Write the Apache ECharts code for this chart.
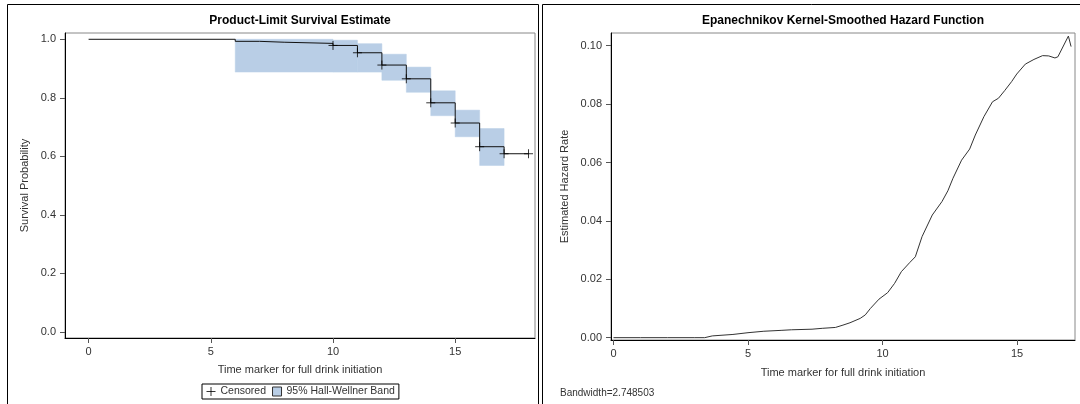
<!DOCTYPE html>
<html>
<head>
<meta charset="utf-8">
<script src="https://cdn.jsdelivr.net/npm/echarts@6/dist/echarts.min.js"></script>
<style>
html,body{margin:0;padding:0;background:#fff;}
#chart{width:1080px;height:404px;}
</style>
</head>
<body>
<div id="chart"></div>
<script>
// ---- Survival (Product-Limit) data ----
const stepTimes = [0, 6, 7, 8, 10, 11, 12, 13, 14, 15, 16, 17, 18];
const stepSurv  = [1.0, 0.993, 0.990, 0.986, 0.979, 0.954, 0.912, 0.865, 0.783, 0.714, 0.633, 0.609, 0.609];

const censTimes = [10, 11, 12, 13, 14, 15, 16, 17, 18];
const censSurv  = [0.979, 0.954, 0.912, 0.865, 0.783, 0.714, 0.633, 0.609, 0.609];

const bandStart = [6, 10, 11, 12, 13, 14, 15, 16];
const bandEnd   = [10, 11, 12, 13, 14, 15, 16, 17];
const bandLower = [0.888, 0.888, 0.888, 0.860, 0.819, 0.739, 0.667, 0.569];
const bandUpper = [1.000, 0.997, 0.985, 0.949, 0.905, 0.824, 0.758, 0.695];

const survXTicks = [0, 5, 10, 15];
const survYTicks = [0, 0.2, 0.4, 0.6, 0.8, 1.0];

// ---- Hazard (Epanechnikov kernel-smoothed) data ----
const hazTime = [0, 1, 2, 3, 3.39, 3.67, 4.44, 5.0, 5.59, 6.23, 6.61, 7.38, 7.76, 8.25, 8.53, 8.79, 9.17, 9.36, 9.55, 9.87, 10.19, 10.45, 10.70, 11.02, 11.22, 11.47, 11.85, 12.21, 12.43, 12.62, 12.94, 13.24, 13.45, 13.77, 14.09, 14.31, 14.54, 14.80, 14.99, 15.31, 15.63, 15.95, 16.18, 16.41, 16.52, 16.91, 17.01];
const hazRate = [0, 0, 0, 0, 0, 0.0006, 0.0011, 0.0017, 0.0022, 0.0025, 0.0027, 0.0029, 0.0032, 0.0035, 0.0043, 0.0051, 0.0066, 0.0078, 0.0100, 0.0132, 0.0154, 0.0186, 0.0226, 0.0258, 0.0277, 0.0346, 0.0420, 0.0466, 0.0503, 0.0546, 0.0608, 0.0646, 0.0694, 0.0757, 0.0808, 0.0820, 0.0846, 0.0877, 0.0903, 0.0937, 0.0953, 0.0966, 0.0965, 0.0958, 0.0962, 0.1033, 0.0997];

const hazXTicks = [0, 5, 10, 15];
const hazYTicks = [0, 0.02, 0.04, 0.06, 0.08, 0.10];

const bandwidthText = 'Bandwidth=2.748503';

const FONT = '"Liberation Sans", Arial, sans-serif';
const BAND_COLOR = '#B9CEE6';

const chart = echarts.init(document.getElementById('chart'), null, {renderer: 'canvas'});

function axisCommon(ticks, fmt, isX, name, gap) {
  return {
    type: 'value',
    name: name,
    nameLocation: 'middle',
    nameGap: gap,
    nameTextStyle: {fontFamily: FONT, fontSize: 11, color: '#333'},
    axisLine: {show: true, onZero: false, lineStyle: {color: '#000', width: 1}},
    axisTick: {show: true, length: 5, customValues: ticks, lineStyle: {color: '#555'}},
    axisLabel: {show: true, customValues: ticks, margin: isX ? 8 : 9, fontFamily: FONT, fontSize: 11, color: '#333', formatter: fmt},
    splitLine: {show: false}
  };
}

const option = {
  animation: false,
  backgroundColor: '#fff',
  grid: [
    {left: 65, top: 33, width: 470, height: 305, show: true, borderColor: '#888', borderWidth: 1, backgroundColor: '#fff'},
    {left: 611, top: 33, width: 464, height: 307, show: true, borderColor: '#888', borderWidth: 1, backgroundColor: '#fff'}
  ],
  xAxis: [
    Object.assign(axisCommon(survXTicks, v => String(v), true, 'Time marker for full drink initiation', 26), {gridIndex: 0, min: -0.966, max: 18.265}),
    Object.assign(axisCommon(hazXTicks, v => String(v), true, 'Time marker for full drink initiation', 27), {gridIndex: 1, min: -0.093, max: 17.156})
  ],
  yAxis: [
    Object.assign(axisCommon(survYTicks, v => v.toFixed(1), false, 'Survival Probability', 35), {gridIndex: 0, min: -0.0205, max: 1.0215}),
    Object.assign(axisCommon(hazYTicks, v => v.toFixed(2), false, 'Estimated Hazard Rate', 41), {gridIndex: 1, min: -0.0008, max: 0.10435})
  ],
  legend: {
    left: 202, top: 384,
    padding: [2, 4, 2, 4],
    borderColor: '#000', borderWidth: 1,
    itemGap: 6, itemWidth: 9, itemHeight: 9,
    textStyle: {fontFamily: FONT, fontSize: 10.5, color: '#333'},
    data: [
      {name: 'Censored', icon: 'path://M0,5H10M5,0V10', itemStyle: {color: 'rgba(0,0,0,0)', borderColor: '#000', borderWidth: 1}},
      {name: '95% Hall-Wellner Band', icon: 'rect', itemStyle: {color: BAND_COLOR, borderColor: '#333', borderWidth: 1}}
    ]
  },
  graphic: [
    {type: 'rect', silent: true, shape: {x: 7.5, y: 4.5, width: 531, height: 420}, style: {fill: 'none', stroke: '#000', lineWidth: 1}, z: -10},
    {type: 'rect', silent: true, shape: {x: 542.5, y: 4.5, width: 600, height: 420}, style: {fill: 'none', stroke: '#000', lineWidth: 1}, z: -10},
    {type: 'text', silent: true, x: 300, y: 21, style: {text: 'Product-Limit Survival Estimate', align: 'center', verticalAlign: 'middle', font: 'bold 12px ' + FONT, fill: '#000'}},
    {type: 'text', silent: true, x: 843, y: 21, style: {text: 'Epanechnikov Kernel-Smoothed Hazard Function', align: 'center', verticalAlign: 'middle', font: 'bold 12px ' + FONT, fill: '#000'}},
    {type: 'text', silent: true, x: 560, y: 393, style: {text: bandwidthText, align: 'left', verticalAlign: 'middle', font: '10px ' + FONT, fill: '#333'}}
  ],
  series: [
    {
      name: '95% Hall-Wellner Band',
      type: 'custom',
      xAxisIndex: 0, yAxisIndex: 0,
      encode: {x: [0, 1], y: [2, 3]},
      data: bandStart.map((s, i) => [s, bandEnd[i], bandLower[i], bandUpper[i]]),
      itemStyle: {color: BAND_COLOR},
      renderItem: function (params, api) {
        const p0 = api.coord([api.value(0), api.value(3)]);
        const p1 = api.coord([api.value(1), api.value(2)]);
        return {
          type: 'rect',
          shape: {x: p0[0], y: p0[1], width: p1[0] - p0[0], height: p1[1] - p0[1]},
          style: {fill: BAND_COLOR, stroke: BAND_COLOR, lineWidth: 0.5}
        };
      },
      z: 1
    },
    {
      name: 'Survival',
      type: 'line',
      xAxisIndex: 0, yAxisIndex: 0,
      step: 'end',
      showSymbol: false,
      data: stepTimes.map((t, i) => [t, stepSurv[i]]),
      lineStyle: {color: '#111', width: 1},
      z: 3
    },
    {
      name: 'Censored',
      type: 'scatter',
      xAxisIndex: 0, yAxisIndex: 0,
      symbol: 'path://M0,5H10M5,0V10',
      symbolSize: 9,
      data: censTimes.map((t, i) => [t, censSurv[i]]),
      itemStyle: {color: 'rgba(0,0,0,0)', borderColor: '#000', borderWidth: 1},
      z: 4
    },
    {
      name: 'Hazard',
      type: 'line',
      xAxisIndex: 1, yAxisIndex: 1,
      showSymbol: false,
      data: hazTime.map((t, i) => [t, hazRate[i]]),
      lineStyle: {color: '#333', width: 1},
      z: 3
    }
  ]
};
chart.setOption(option);
</script>
</body>
</html>
